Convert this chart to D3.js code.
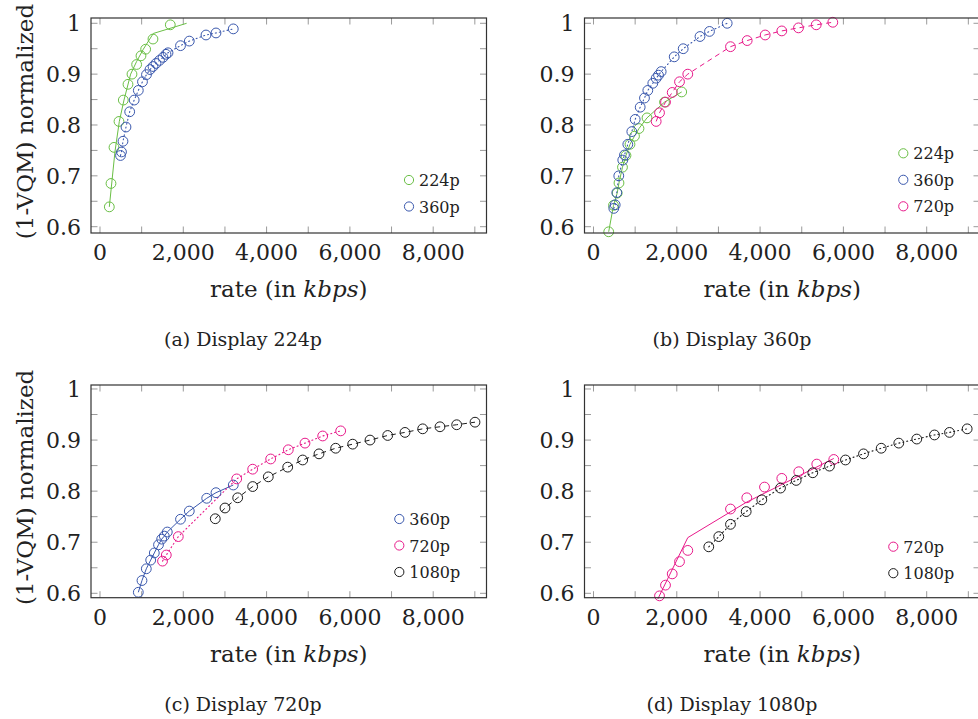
<!DOCTYPE html>
<html>
<head>
<meta charset="utf-8">
<script src="https://cdn.jsdelivr.net/npm/d3@7"></script>
<style>
  body { margin: 0; background: #fff; }
  svg { display: block; }
</style>
</head>
<body>
<div id="chart"></div>
<script>
// ---- data (rate in kbps, 1-VQM normalized) ----
var xTickValues = [0, 1000, 2000, 3000, 4000, 5000, 6000, 7000, 8000, 9000];
var xTickLabels = ["0", "", "2,000", "", "4,000", "", "6,000", "", "8,000", ""];
var yTickValues = [0.6, 0.65, 0.7, 0.75, 0.8, 0.85, 0.9, 0.95, 1];
var yTickLabels = ["0.6", "", "0.7", "", "0.8", "", "0.9", "", "1"];

// (a) Display 224p
var a224Rate = [224, 264, 336, 456, 560, 672, 768, 880, 984, 1096, 1272, 1688];
var a224Val = [0.639, 0.685, 0.756, 0.807, 0.849, 0.880, 0.900, 0.919, 0.936, 0.949, 0.969, 0.997];
var a224FitRate = [224, 360, 464, 576, 736, 880, 1040, 1280, 2080];
var a224FitVal = [0.639, 0.748, 0.807, 0.849, 0.900, 0.925, 0.949, 0.980, 1.0];
var a360Rate = [492, 516, 552, 624, 713, 821, 920, 1020, 1116, 1200, 1273, 1345, 1429, 1513, 1585, 1633, 1933, 2144, 2545, 2785, 3200];
var a360Val = [0.740, 0.747, 0.768, 0.796, 0.826, 0.849, 0.868, 0.885, 0.899, 0.909, 0.915, 0.921, 0.927, 0.933, 0.939, 0.942, 0.956, 0.965, 0.977, 0.981, 0.989];

// (b) Display 360p
var b224Rate = [365, 480, 569, 612, 696, 780, 876, 984, 1092, 1285, 1705, 2118];
var b224Val = [0.590, 0.642, 0.666, 0.686, 0.717, 0.740, 0.762, 0.778, 0.793, 0.814, 0.845, 0.865];
var b360Rate = [487, 521, 559, 607, 703, 744, 824, 920, 1001, 1121, 1224, 1304, 1424, 1505, 1561, 1625, 1938, 2154, 2557, 2785, 3210];
var b360Val = [0.636, 0.643, 0.667, 0.700, 0.731, 0.741, 0.762, 0.787, 0.811, 0.835, 0.853, 0.868, 0.882, 0.892, 0.898, 0.905, 0.934, 0.950, 0.974, 0.984, 1.0];
var b720Rate = [1505, 1585, 1729, 1890, 2065, 2264, 3289, 3690, 4122, 4521, 4922, 5347, 5746];
var b720Val = [0.807, 0.824, 0.845, 0.864, 0.885, 0.900, 0.954, 0.966, 0.977, 0.985, 0.991, 0.997, 1.002];

// (c) Display 720p
var c360Rate = [920, 1008, 1112, 1217, 1304, 1405, 1481, 1544, 1616, 1933, 2144, 2562, 2785, 3200];
var c360Val = [0.602, 0.625, 0.648, 0.665, 0.679, 0.695, 0.706, 0.712, 0.720, 0.745, 0.761, 0.786, 0.797, 0.812];
var c720Rate = [1501, 1592, 1880, 3282, 3666, 4098, 4521, 4922, 5347, 5779];
var c720Val = [0.663, 0.675, 0.711, 0.824, 0.843, 0.863, 0.881, 0.894, 0.908, 0.918];
var c1080Rate = [2768, 3001, 3306, 3666, 4041, 4507, 4867, 5258, 5659, 6067, 6483, 6908, 7323, 7748, 8163, 8564, 9004];
var c1080Val = [0.746, 0.767, 0.787, 0.809, 0.828, 0.847, 0.861, 0.873, 0.884, 0.892, 0.900, 0.909, 0.915, 0.922, 0.926, 0.930, 0.935];

// (d) Display 1080p
var d720Rate = [1585, 1729, 1890, 2065, 2264, 3289, 3681, 4106, 4521, 4929, 5361, 5769];
var d720Val = [0.595, 0.616, 0.638, 0.662, 0.684, 0.765, 0.787, 0.808, 0.825, 0.838, 0.853, 0.862];
var d720FitRate = [1545, 2264, 3666, 5769];
var d720FitVal = [0.589, 0.709, 0.778, 0.864];
var d1080Rate = [2768, 3008, 3289, 3666, 4041, 4490, 4867, 5265, 5666, 6050, 6483, 6908, 7330, 7762, 8187, 8547, 8972];
var d1080Val = [0.691, 0.711, 0.735, 0.760, 0.783, 0.806, 0.821, 0.836, 0.849, 0.861, 0.873, 0.884, 0.894, 0.902, 0.910, 0.915, 0.922];

var colors = { "224p": "#6abf45", "360p": "#3a58ad", "720p": "#e8198a", "1080p": "#1c1c1c" };
var dashes = { solid: null, dotted: "1,3", dashed: "5,4" };
var serif = "DejaVu Serif";

function zip(xs, ys) {
    return xs.map(function (x, i) { return [x, ys[i]]; });
}

var panels = [
    { left: 91, top: 18, bottom: 233, yDomain: [0.5876, 1.0104], yLabel: true,
      caption: "(a) Display 224p", capX: 243,
      lines: [
          { pts: zip(a224FitRate, a224FitVal), key: "224p", style: "solid" },
          { pts: zip(a360Rate, a360Val), key: "360p", style: "dotted" }
      ],
      marks: [
          { pts: zip(a224Rate, a224Val), key: "224p" },
          { pts: zip(a360Rate, a360Val), key: "360p" }
      ],
      legend: { x: 409, y: 180, keys: ["224p", "360p"] } },
    { left: 584.5, top: 18, bottom: 233, yDomain: [0.5876, 1.0104], yLabel: false,
      caption: "(b) Display 360p", capX: 732,
      lines: [
          { pts: zip(b224Rate, b224Val), key: "224p", style: "solid" },
          { pts: zip(b360Rate, b360Val), key: "360p", style: "dotted" },
          { pts: zip(b720Rate, b720Val), key: "720p", style: "dashed" }
      ],
      marks: [
          { pts: zip(b224Rate, b224Val), key: "224p" },
          { pts: zip(b360Rate, b360Val), key: "360p" },
          { pts: zip(b720Rate, b720Val), key: "720p" }
      ],
      legend: { x: 903.3, y: 153.3, keys: ["224p", "360p", "720p"] } },
    { left: 91, top: 385, bottom: 597.7, yDomain: [0.5914, 1.0078], yLabel: true,
      caption: "(c) Display 720p", capX: 243,
      lines: [
          { pts: zip(c360Rate, c360Val), key: "360p", style: "solid" },
          { pts: zip(c720Rate, c720Val), key: "720p", style: "dotted" },
          { pts: zip(c1080Rate, c1080Val), key: "1080p", style: "dashed" }
      ],
      marks: [
          { pts: zip(c360Rate, c360Val), key: "360p" },
          { pts: zip(c720Rate, c720Val), key: "720p" },
          { pts: zip(c1080Rate, c1080Val), key: "1080p" }
      ],
      legend: { x: 399.3, y: 519, keys: ["360p", "720p", "1080p"] } },
    { left: 584.5, top: 385, bottom: 597.7, yDomain: [0.5914, 1.0078], yLabel: false,
      caption: "(d) Display 1080p", capX: 732,
      lines: [
          { pts: zip(d720FitRate, d720FitVal), key: "720p", style: "solid" },
          { pts: zip(d1080Rate, d1080Val), key: "1080p", style: "dotted" }
      ],
      marks: [
          { pts: zip(d720Rate, d720Val), key: "720p" },
          { pts: zip(d1080Rate, d1080Val), key: "1080p" }
      ],
      legend: { x: 893.3, y: 546.7, keys: ["720p", "1080p"] } }
];

var svg = d3.select("#chart").append("svg")
    .attr("width", 978)
    .attr("height", 719)
    .style("font-family", serif);

var plotWidth = 395.5;   // frame width of every panel
var tickLen = 6.5;
var markR = 4.9;

panels.forEach(function (p) {
    var right = p.left + plotWidth;
    var x = d3.scaleLinear().domain([-216, 9280]).range([p.left, right]);
    var y = d3.scaleLinear().domain(p.yDomain).range([p.bottom, p.top]);
    var g = svg.append("g").attr("class", "panel");

    // ticks, inside on all four sides
    var tickStroke = "#9a9a9a";
    xTickValues.forEach(function (v) {
        g.append("line").attr("x1", x(v)).attr("x2", x(v))
            .attr("y1", p.bottom).attr("y2", p.bottom - tickLen)
            .attr("stroke", tickStroke);
        g.append("line").attr("x1", x(v)).attr("x2", x(v))
            .attr("y1", p.top).attr("y2", p.top + tickLen)
            .attr("stroke", tickStroke);
    });
    yTickValues.forEach(function (v) {
        g.append("line").attr("x1", p.left).attr("x2", p.left + tickLen)
            .attr("y1", y(v)).attr("y2", y(v)).attr("stroke", tickStroke);
        g.append("line").attr("x1", right).attr("x2", right - tickLen)
            .attr("y1", y(v)).attr("y2", y(v)).attr("stroke", tickStroke);
    });

    // tick labels
    g.selectAll(".xlab").data(xTickValues).enter().append("text")
        .attr("class", "xlab")
        .attr("x", function (d) { return x(d); })
        .attr("y", p.bottom + 27)
        .attr("text-anchor", "middle")
        .style("font-size", "22px")
        .attr("fill", "#222")
        .text(function (d, i) { return xTickLabels[i]; });
    g.selectAll(".ylab").data(yTickValues).enter().append("text")
        .attr("class", "ylab")
        .attr("x", p.left - 10)
        .attr("y", function (d) { return y(d); })
        .attr("dy", "0.36em")
        .attr("text-anchor", "end")
        .style("font-size", "22px")
        .attr("fill", "#222")
        .text(function (d, i) { return yTickLabels[i]; });

    // series lines
    var line = d3.line().x(function (d) { return x(d[0]); }).y(function (d) { return y(d[1]); });
    p.lines.forEach(function (s) {
        g.append("path")
            .attr("d", line(s.pts))
            .attr("fill", "none")
            .attr("stroke", colors[s.key])
            .attr("stroke-width", s.style === "dotted" ? 1.1 : 1)
            .attr("stroke-linecap", s.style === "dotted" ? "round" : "butt")
            .attr("stroke-dasharray", dashes[s.style]);
    });

    // circle markers
    p.marks.forEach(function (s) {
        g.selectAll(null).data(s.pts).enter().append("circle")
            .attr("cx", function (d) { return x(d[0]); })
            .attr("cy", function (d) { return y(d[1]); })
            .attr("r", markR)
            .attr("fill", "none")
            .attr("stroke", colors[s.key])
            .attr("stroke-width", 1);
    });

    // frame
    g.append("rect")
        .attr("x", p.left).attr("y", p.top)
        .attr("width", plotWidth).attr("height", p.bottom - p.top)
        .attr("fill", "none").attr("stroke", "#333").attr("stroke-width", 1.2);

    // legend
    p.legend.keys.forEach(function (k, i) {
        var ly = p.legend.y + i * 26.5;
        g.append("circle").attr("cx", p.legend.x).attr("cy", ly).attr("r", 4.6)
            .attr("fill", "none").attr("stroke", colors[k]).attr("stroke-width", 1);
        g.append("text").attr("x", p.legend.x + 10).attr("y", ly + 6)
            .style("font-size", "16px").attr("fill", "#222").text(k);
    });

    // axis titles
    var xt = g.append("text")
        .attr("x", (p.left + right) / 2)
        .attr("y", p.bottom + 64)
        .attr("text-anchor", "middle")
        .style("font-size", "23px")
        .attr("fill", "#222");
    xt.append("tspan").text("rate (in ");
    xt.append("tspan").style("font-style", "italic").text("kbps");
    xt.append("tspan").text(")");

    if (p.yLabel) {
        g.append("text")
            .attr("transform", "translate(33," + ((p.top + p.bottom) / 2 - 4) + ") rotate(-90)")
            .attr("text-anchor", "middle")
            .style("font-size", "23px")
            .attr("fill", "#222")
            .text("(1-VQM) normalized");
    }

    // sub-caption
    g.append("text")
        .attr("x", p.capX)
        .attr("y", p.bottom + 113)
        .attr("text-anchor", "middle")
        .style("font-size", "19px")
        .attr("fill", "#222")
        .text(p.caption);
});
</script>
</body>
</html>
